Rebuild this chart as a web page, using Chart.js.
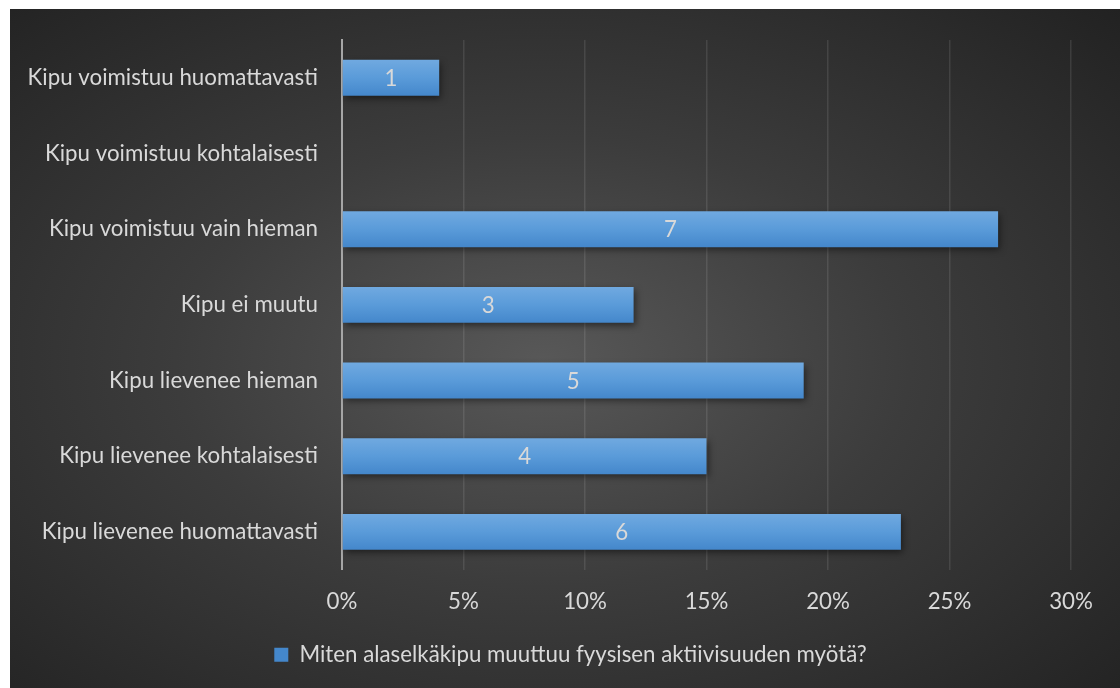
<!DOCTYPE html>
<html>
<head>
<meta charset="utf-8">
<script src="https://cdn.jsdelivr.net/npm/chart.js@4.4.1/dist/chart.umd.min.js"></script>
<style>
  html, body { margin: 0; padding: 0; background: #ffffff; }
  #panel {
    position: absolute; left: 10px; top: 9px; width: 1110px; height: 679px;
    background: radial-gradient(ellipse farthest-corner at 48% 52%, #585858 0%, #3c3c3c 45%, #222222 100%);
  }
  canvas { display: block; }
</style>
</head>
<body>
<div id="panel"><canvas id="c" width="1110" height="679"></canvas></div>
<script>
// Answer categories, top to bottom
const categories = [
  'Kipu voimistuu huomattavasti',
  'Kipu voimistuu kohtalaisesti',
  'Kipu voimistuu vain hieman',
  'Kipu ei muutu',
  'Kipu lievenee hieman',
  'Kipu lievenee kohtalaisesti',
  'Kipu lievenee huomattavasti'
];
// Number of respondents per answer
const counts = [1, 0, 7, 3, 5, 4, 6];
// Share of respondents, percent
const shares = [4, 0, 27, 12, 19, 15, 23];
// Percent axis ticks
const tickValues = [0, 5, 10, 15, 20, 25, 30];
const seriesName = 'Miten alaselkäkipu muuttuu fyysisen aktiivisuuden myötä?';

const FONT = 'Lato';
const FS = 22.3;
const TEXT = '#d9d9d9';
const BAR_FRACTION = 0.475;
const LEGEND_INSET = 60;

function barFill(c) {
  const chart = c.chart;
  if (c.dataIndex === undefined || !chart.chartArea) return '#5b9bd5';
  const y = chart.scales.y;
  const mid = y.getPixelForValue(c.dataIndex);
  const half = (chart.chartArea.height / categories.length) * BAR_FRACTION / 2;
  const g = chart.ctx.createLinearGradient(0, mid - half, 0, mid + half);
  g.addColorStop(0, '#70a9e0');
  g.addColorStop(0.5, '#5a9bd9');
  g.addColorStop(1, '#4487cb');
  return g;
}

// Soft drop shadow under the bars
const barShadow = {
  id: 'barShadow',
  beforeDatasetDraw(chart) {
    const ctx = chart.ctx;
    ctx.save();
    ctx.shadowColor = 'rgba(0,0,0,0.5)';
    ctx.shadowBlur = 7;
    ctx.shadowOffsetX = 2;
    ctx.shadowOffsetY = 3;
  },
  afterDatasetDraw(chart) {
    chart.ctx.restore();
  }
};

// Centre the legend under the whole panel rather than the padded area
const legendInset = {
  id: 'legendInset',
  afterLayout(chart) {
    if (chart.legend) chart.legend.left = LEGEND_INSET;
  }
};

// Respondent counts written in the middle of each bar
const countLabels = {
  id: 'countLabels',
  afterDatasetsDraw(chart) {
    const ctx = chart.ctx;
    const meta = chart.getDatasetMeta(0);
    ctx.save();
    ctx.font = FS + 'px ' + FONT;
    ctx.fillStyle = TEXT;
    ctx.textAlign = 'center';
    ctx.textBaseline = 'middle';
    meta.data.forEach((bar, i) => {
      if (!counts[i]) return;
      ctx.fillText(String(counts[i]), (bar.x + bar.base) / 2, bar.y + 1);
    });
    ctx.restore();
  }
};

function draw() {
  new Chart(document.getElementById('c'), {
    type: 'bar',
    data: {
      labels: categories,
      datasets: [{
        label: seriesName,
        data: shares,
        backgroundColor: barFill,
        borderWidth: 0,
        categoryPercentage: 1,
        barPercentage: BAR_FRACTION
      }]
    },
    plugins: [barShadow, legendInset, countLabels],
    options: {
      indexAxis: 'y',
      responsive: false,
      animation: false,
      events: [],
      layout: { padding: { top: 31, right: 49, left: 0, bottom: 12 } },
      scales: {
        x: {
          min: 0, max: 30,
          afterBuildTicks(s) { s.ticks = tickValues.map(v => ({ value: v })); },
          afterFit(s) { s.height = 64; },
          border: { display: false },
          grid: { color: 'rgba(255,255,255,0.10)', lineWidth: 1.5, drawTicks: false },
          ticks: {
            padding: 19,
            color: TEXT,
            font: { family: FONT, size: FS },
            callback: v => v + '%'
          }
        },
        y: {
          z: 1,
          afterFit(s) { s.width = 332; s.paddingTop = 0; s.paddingBottom = 0; },
          border: { display: true, color: '#a6a6a6', width: 2 },
          grid: { display: false, drawTicks: false },
          ticks: {
            padding: 24,
            color: TEXT,
            font: { family: FONT, size: FS }
          }
        }
      },
      plugins: {
        tooltip: { enabled: false },
        legend: {
          position: 'bottom',
          labels: {
            color: TEXT,
            font: { family: FONT, size: FS },
            boxWidth: 14,
            boxHeight: 14,
            padding: 10
          }
        }
      }
    }
  });
}

const fontReady = document.fonts && document.fonts.load
  ? document.fonts.load(FS + 'px ' + FONT).catch(() => null)
  : Promise.resolve();
fontReady.then(draw);
</script>
</body>
</html>
